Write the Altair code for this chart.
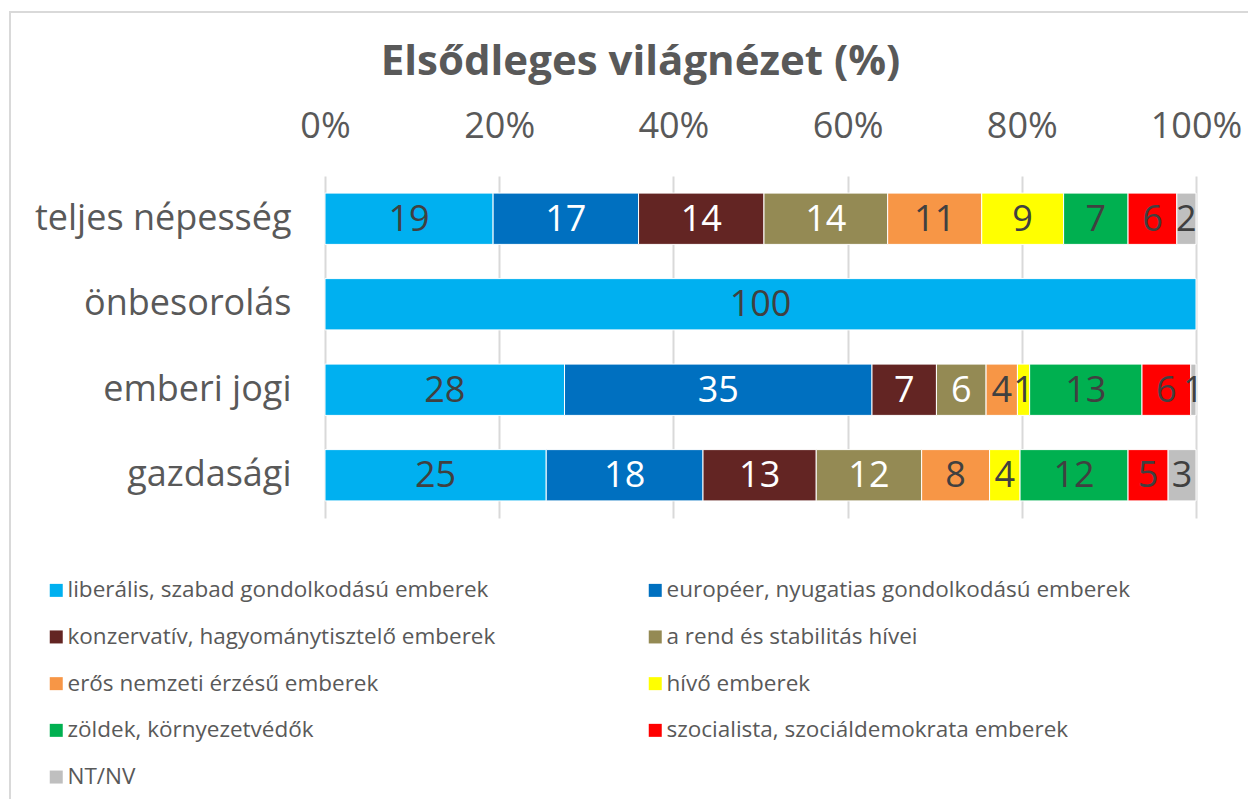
import altair as alt
import pandas as pd

rows = ["teljes népesség", "önbesorolás", "emberi jogi", "gazdasági"]
series = [
    "liberális, szabad gondolkodású emberek",
    "européer, nyugatias gondolkodású emberek",
    "konzervatív, hagyománytisztelő emberek",
    "a rend és stabilitás hívei",
    "erős nemzeti érzésű emberek",
    "hívő emberek",
    "zöldek, környezetvédők",
    "szocialista, szociáldemokrata emberek",
    "NT/NV",
]
colors = ["#00B0F0", "#0070C0", "#632523", "#948A54", "#F79646",
          "#FFFF00", "#00B050", "#FF0000", "#BFBFBF"]
label_colors = ["#404040", "#FFFFFF", "#FFFFFF", "#FFFFFF", "#404040",
                "#404040", "#404040", "#404040", "#404040"]

liberalis = [19.3, 100, 27.5, 25.4]
europeer = [16.7, 0, 35.3, 18.0]
konzervativ = [14.4, 0, 7.4, 13.0]
rend = [14.2, 0, 5.7, 12.1]
nemzeti = [10.8, 0, 3.6, 7.8]
hivo = [9.4, 0, 1.4, 3.5]
zoldek = [7.4, 0, 12.9, 12.4]
szocialista = [5.6, 0, 5.6, 4.6]
ntnv = [2.2, 0, 0.6, 3.2]

values = [liberalis, europeer, konzervativ, rend, nemzeti, hivo, zoldek, szocialista, ntnv]
x_ticks = [0, 20, 40, 60, 80, 100]

records = []
for si, (name, vals) in enumerate(zip(series, values)):
    for ri, r in enumerate(rows):
        if vals[ri] > 0:
            records.append({"row": r, "series": name, "order": si,
                            "value": vals[ri], "tcolor": label_colors[si]})
df = pd.DataFrame(records)

FONT = "Open Sans"
TXT = "#595959"

base = alt.Chart(df).transform_stack(
    stack="value", groupby=["row"], as_=["x0", "x1"],
    sort=[alt.SortField("order", order="ascending")],
).transform_calculate(mid="(datum.x0 + datum.x1) / 2")

y_enc = alt.Y("row:N", sort=rows, title=None,
              scale=alt.Scale(paddingInner=0.4, paddingOuter=0.2),
              axis=alt.Axis(labelFontSize=36, labelColor=TXT, labelFont=FONT,
                            ticks=False, domain=False, labelPadding=34,
                            labelLimit=400))

bars = base.mark_bar(stroke="white", strokeWidth=1).encode(
    x=alt.X("x0:Q", title=None,
            scale=alt.Scale(domain=[0, 100], nice=False),
            axis=alt.Axis(orient="top", values=x_ticks,
                          labelExpr="datum.value + '%'", labelFlush=False,
                          labelFontSize=36, labelColor=TXT, labelFont=FONT,
                          ticks=False, tickSize=0, domain=False, labelPadding=31,
                          grid=True, gridColor="#D9D9D9", gridWidth=2)),
    x2="x1:Q",
    y=y_enc,
    color=alt.Color("series:N", sort=series,
                    scale=alt.Scale(domain=series, range=colors),
                    legend=alt.Legend(title=None, orient="none",
                                      direction="horizontal",
                                      legendX=-280, legendY=403,
                                      columns=2, columnPadding=148,
                                      rowPadding=23.7, padding=0,
                                      symbolType="square", symbolSize=169,
                                      symbolStrokeWidth=0, symbolOpacity=1,
                                      labelFontSize=22.5, labelColor=TXT,
                                      labelFont=FONT, labelOffset=0,
                                      labelLimit=600)),
    order=alt.Order("order:Q"),
)

labels = base.mark_text(fontSize=36, font=FONT, baseline="middle",
                        align="center", dy=1).encode(
    x=alt.X("mid:Q"),
    y=alt.Y("row:N", sort=rows),
    text=alt.Text("value:Q", format=".0f"),
    color=alt.Color("tcolor:N", scale=None),
)

frame = alt.Chart(alt.Data(values=[{}])).mark_rect(
    fill=None, stroke="#D9D9D9", strokeWidth=2
).encode(x=alt.value(-315), x2=alt.value(960),
         y=alt.value(-164), y2=alt.value(700))

chart = alt.layer(frame, bars, labels).properties(
    width=871, height=342,
    autosize=alt.AutoSizeParams(type="none"),
    padding={"left": 317, "top": 168, "right": 52, "bottom": 281},
    title=alt.TitleParams("Elsődleges világnézet (%)", fontSize=42,
                          fontWeight="bold", color=TXT, font=FONT,
                          anchor="middle", frame="group", dx=-120,
                          offset=0, dy=73),
).configure_view(stroke=None)

chart.save("out.html", embed_options={"renderer": "svg", "actions": False})
